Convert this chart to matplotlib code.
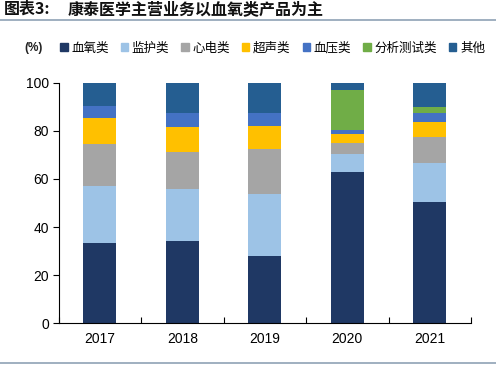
import matplotlib
matplotlib.use("Agg")
import matplotlib.pyplot as plt
import numpy as np
from matplotlib.lines import Line2D

plt.rcParams['font.family'] = ['Liberation Sans', 'Noto Sans CJK SC', 'DejaVu Sans']

years = ['2017', '2018', '2019', '2020', '2021']
series_names = ['血氧类', '监护类', '心电类', '超声类', '血压类', '分析测试类', '其他']
blood_oxygen = [33.3, 34.0, 28.0, 63.0, 50.5]
monitoring = [23.8, 22.0, 25.9, 7.4, 16.3]
ecg = [17.6, 15.4, 18.7, 4.7, 10.7]
ultrasound = [10.8, 10.1, 9.2, 3.5, 6.0]
blood_pressure = [5.0, 5.7, 5.4, 1.7, 3.9]
analysis = [0.0, 0.0, 0.0, 16.5, 2.6]
other = [9.5, 12.8, 12.8, 3.2, 10.0]
colors = ['#1F3864', '#9DC3E6', '#A5A5A5', '#FFC000', '#4472C4', '#70AD47', '#255E91']

fig = plt.figure(figsize=(4.96, 3.69), dpi=100)
ax = fig.add_axes([58.5/496, 1-323.3/369, (471-58.5)/496, (323.3-82.7)/369])

x = np.arange(len(years))
bottom = np.zeros(len(years))
for vals, c, name in zip([blood_oxygen, monitoring, ecg, ultrasound, blood_pressure, analysis, other], colors, series_names):
    ax.bar(x, vals, 0.4, bottom=bottom, color=c, label=name, linewidth=0)
    bottom += np.array(vals)

ax.set_xlim(-0.5, len(years) - 0.5)
ax.set_ylim(0, 100)
ax.set_yticks([0, 20, 40, 60, 80, 100])
ax.set_xticks(x)
ax.set_xticklabels(years)
ax.set_xticks(np.arange(len(years) + 1) - 0.5, minor=True)
ax.tick_params(axis='x', which='major', length=0, pad=6, labelsize=10)
ax.tick_params(axis='x', which='minor', length=4, direction='in', width=0.8)
ax.tick_params(axis='y', length=4, direction='out', width=0.8, labelsize=10, pad=3)
for s in ['top', 'right']:
    ax.spines[s].set_visible(False)
for s in ['left', 'bottom']:
    ax.spines[s].set_linewidth(0.8)

# title
fig.text(4/496, 1-9/369, '图表3:', fontsize=11.5, fontweight='bold',
         family=['Noto Sans CJK SC', 'DejaVu Sans'], va='center', ha='left', color='#111111')
fig.text(68/496, 1-9/369, '康泰医学主营业务以血氧类产品为主', fontsize=11.5, fontweight='bold',
         family=['Noto Sans CJK SC', 'DejaVu Sans'], va='center', ha='left', color='#111111')
fig.add_artist(Line2D([0, 1], [1-20/369, 1-20/369], color='#8FA2B5', lw=1.2))
fig.add_artist(Line2D([0, 1], [1-363/369, 1-363/369], color='#8FA2B5', lw=1.2))

# legend
fig.text(24/496, 1-48/369, '(%)', fontsize=8.5, va='center', ha='left', fontweight='bold', color='#222222')
handles = [plt.Rectangle((0, 0), 1, 1, color=c) for c in colors]
leg = fig.legend(handles, series_names, loc='center left', bbox_to_anchor=(60/496, 1-48/369), ncol=7,
                 frameon=False, handlelength=0.6, handleheight=0.6, handletextpad=0.3,
                 columnspacing=0.95, borderaxespad=0, borderpad=0,
                 prop={'family': ['Noto Sans CJK SC', 'DejaVu Sans'], 'size': 9})

fig.savefig('out.png', dpi=100)
